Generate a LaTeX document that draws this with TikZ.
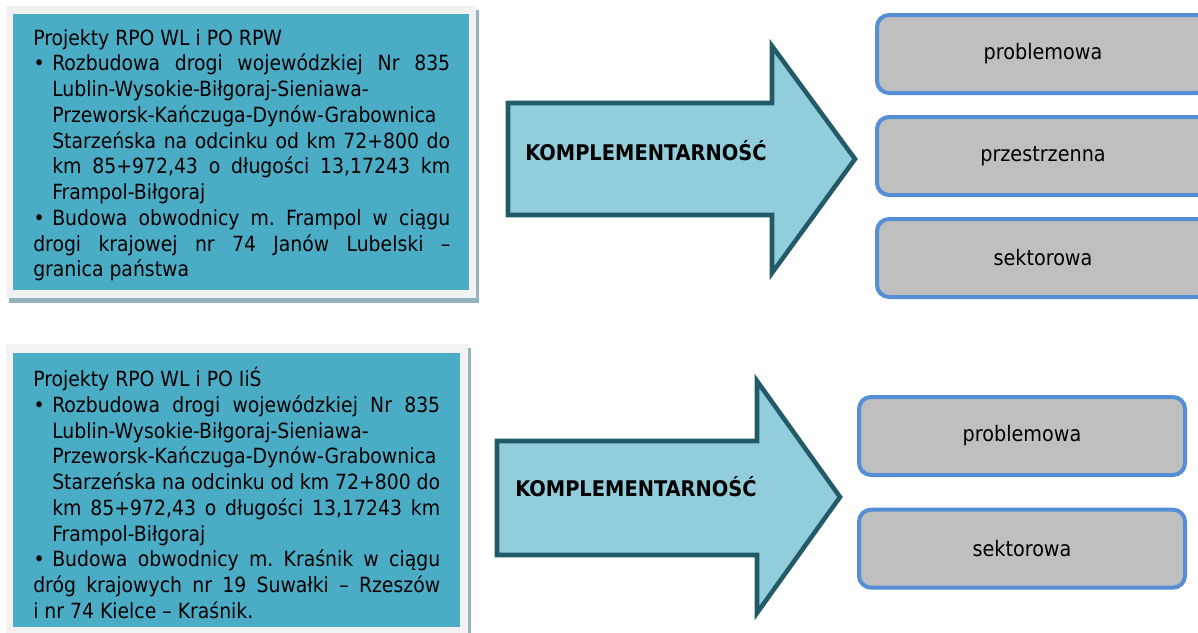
\documentclass[tikz,border=0pt]{standalone}
\usepackage{fontspec}
\setmainfont{DejaVu Sans Condensed}
\usetikzlibrary{positioning}
\definecolor{paneltyrkus}{RGB}{75,172,198}
\definecolor{ramkaszara}{RGB}{242,242,242}
\definecolor{cienszary}{RGB}{149,179,189}
\definecolor{strzalkajasna}{RGB}{146,205,220}
\definecolor{strzalkaciemna}{RGB}{35,90,104}
\definecolor{kategoriatlo}{RGB}{191,191,191}
\definecolor{kategorialinia}{RGB}{85,142,213}
\newcommand{\pozycja}{\par\hangindent=14.25pt\hangafter=1\noindent\makebox[14.25pt][l]{\hspace{0.3pt}\textbullet}}
\hbadness=10000
\hfuzz=20pt
\frenchspacing

\begin{document}
\begin{tikzpicture}[
    x=0.75pt, y=-0.75pt,
    ramka/.style={fill=ramkaszara, draw=none},
    cien/.style={fill=cienszary, draw=none},
    panel/.style={fill=paneltyrkus, draw=none},
    opis/.style={anchor=north west, inner sep=0pt, text width=#1, align=justify, font=\fontsize{15.7}{19.3}\selectfont},
    strzalka/.style={fill=strzalkajasna, draw=strzalkaciemna, line width=3.4pt, line join=miter},
    etykieta/.style={anchor=base west, inner sep=0pt, font=\bfseries\fontsize{16.2}{18}\selectfont},
    kategoria/.style={rectangle, rounded corners=9pt, draw=kategorialinia, fill=kategoriatlo, line width=3pt, minimum width=#1, minimum height=58.5pt, font=\fontsize{16}{19}\selectfont}
]
\useasboundingbox (0,0) rectangle (1198,632);
\clip (0,0) rectangle (1198,632);

% gorny panel
\fill[cien] (9,10) rectangle (479,303);
\fill[ramka] (6,6) rectangle (476,298);
\fill[panel] (13,14) rectangle (469,290);
\node[opis=312.75pt] (projekty1) at (33,29) {Projekty RPO WL i PO RPW
\pozycja Rozbudowa drogi wojewódzkiej Nr 835\linebreak \mbox{Lublin-Wysokie-Biłgoraj-Sieniawa-}\linebreak \mbox{Przeworsk-Kańczuga-Dynów-Grabownica}\linebreak Starzeńska na odcinku od km 72+800 do\linebreak km 85+972,43 o długości 13,17243 km\linebreak Frampol-Biłgoraj
\pozycja Budowa obwodnicy m. Frampol w ciągu\linebreak drogi krajowej nr 74 Janów Lubelski –\linebreak granica państwa};

\draw[strzalka] (508,103) -- (772,103) -- (772,46) -- (855,159) -- (772,273) -- (772,215) -- (508,215) -- cycle;
\node[etykieta] (komplementarnosc1) at (525,160) {KOMPLEMENTARNOŚĆ};

\node[kategoria=249pt] (problemowa1) at (1043,54) {problemowa};
\node[kategoria=249pt, below=15pt of problemowa1] (przestrzenna1) {przestrzenna};
\node[kategoria=249pt, below=15pt of przestrzenna1] (sektorowa1) {sektorowa};

% dolny panel
\fill[cien] (9,348) rectangle (471,640);
\fill[ramka] (6,344) rectangle (468,640);
\fill[panel] (13,353) rectangle (460,627);
\node[opis=305.25pt] (projekty2) at (33,367) {Projekty RPO WL i PO IiŚ
\pozycja Rozbudowa drogi wojewódzkiej Nr 835\linebreak \mbox{Lublin-Wysokie-Biłgoraj-Sieniawa-}\linebreak \mbox{Przeworsk-Kańczuga-Dynów-Grabownica}\linebreak Starzeńska na odcinku od km 72+800 do\linebreak km 85+972,43 o długości 13,17243 km\linebreak Frampol-Biłgoraj
\pozycja Budowa obwodnicy m. Kraśnik w ciągu\linebreak dróg krajowych nr 19 Suwałki – Rzeszów\linebreak i nr 74 Kielce – Kraśnik.};

\draw[strzalka] (497,441) -- (757,441) -- (757,381) -- (840,497) -- (757,613) -- (757,555) -- (497,555) -- cycle;
\node[etykieta] (komplementarnosc2) at (515,496) {KOMPLEMENTARNOŚĆ};

\node[kategoria=244.5pt] (problemowa2) at (1022,436) {problemowa};
\node[kategoria=244.5pt, below=23pt of problemowa2] (sektorowa2) {sektorowa};

\end{tikzpicture}
\end{document}
